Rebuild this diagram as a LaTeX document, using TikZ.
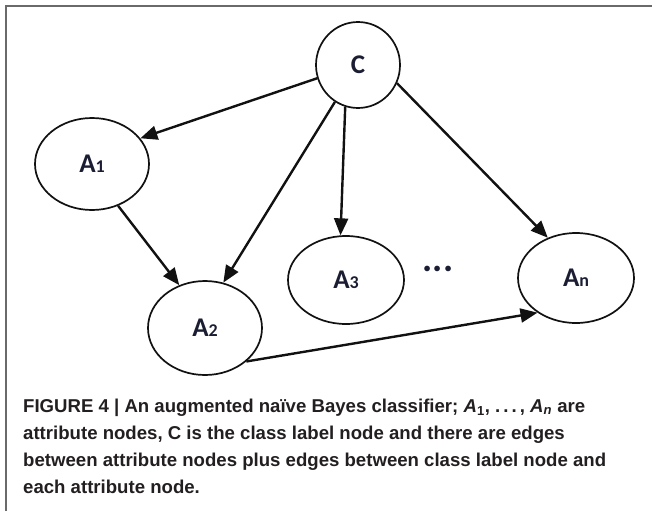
\documentclass[tikz,border=0pt]{standalone}
\usepackage{fontspec}
\setmainfont{Liberation Sans}
\newfontfamily\labelfont{Carlito}
\usetikzlibrary{arrows.meta,shapes.geometric}

\definecolor{inkline}{HTML}{111111}
\definecolor{labelink}{HTML}{1B1E33}
\definecolor{captionink}{HTML}{231F20}
\definecolor{framegray}{HTML}{6A6A6A}

\tikzset{
  varnode/.style={ellipse, draw=inkline, line width=1.7pt, inner sep=0pt,
    text=labelink, font=\labelfont\bfseries\fontsize{27}{27}\selectfont},
  edge/.style={draw=inkline, line width=2.4pt,
    -{Triangle[length=17pt,width=14pt]}},
  capline/.style={anchor=base west, inner sep=0pt, text=captionink,
    font=\bfseries\fontsize{18.6}{27}\selectfont},
}
\newcommand{\attr}[1]{A{\fontsize{18}{18}\selectfont #1}}

\begin{document}
\begin{tikzpicture}[x=1pt, y=-1pt]
  \useasboundingbox (0,0) rectangle (652,511);

  % open frame: top and left rules only
  \draw[framegray, line width=1.5pt] (6,511) -- (6,6) -- (652,6);

  % class node and attribute nodes
  \node[varnode, minimum width=84pt, minimum height=86pt] (C)  at (358,65)  {C};
  \node[varnode, minimum width=114pt, minimum height=92pt] (A1) at (92,164)  {\attr{1}};
  \node[varnode, minimum width=114pt, minimum height=94pt] (A2) at (205,328) {\attr{2}};
  \node[varnode, minimum width=116pt, minimum height=88pt] (A3) at (346,280) {\attr{3}};
  \node[varnode, minimum width=116pt, minimum height=90pt] (An) at (576,278) {\attr{n}};
  \node[text=labelink, font=\labelfont\bfseries\fontsize{38}{38}\selectfont,
        inner sep=0pt] (dots) at (438,269) {...};

  % class label to each attribute
  \draw[edge] (C.198) -- (A1.28);
  \draw[edge] (C.238) -- (A2.68);
  \draw[edge] (C.253) -- (A3.97);
  \draw[edge] (C.335) -- (An.125);

  % edges between attributes
  \draw[edge] (A1.302) -- (A2.121);
  \draw[edge] (A2.321) -- (An.222);

  % caption
  \node[capline] (cap1) at (23,412)
    {FIGURE 4 | An augmented naïve Bayes classifier; \textit{A}\textsubscript{1}, .\,.\,.\,, \textit{A}\textsubscript{\textit{n}} are};
  \node[capline] (cap2) at (23,439)
    {attribute nodes, C is the class label node and there are edges};
  \node[capline] (cap3) at (23,466)
    {between attribute nodes plus edges between class label node and};
  \node[capline] (cap4) at (23,493)
    {each attribute node.};
\end{tikzpicture}
\end{document}
